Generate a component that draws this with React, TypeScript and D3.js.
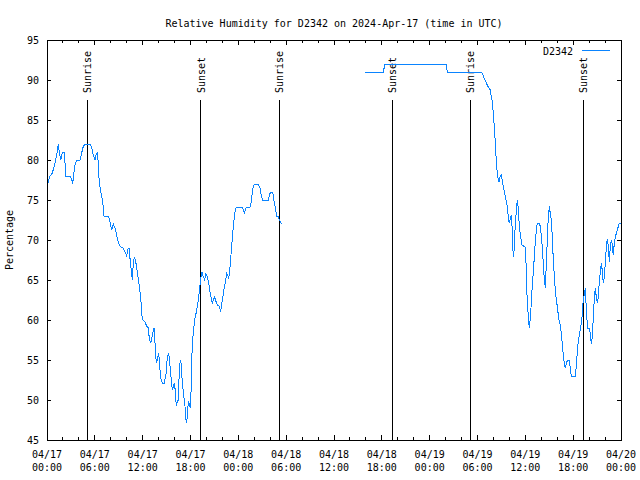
import React from 'react';
import * as d3 from 'd3';

// Relative humidity chart for station D2342, three days starting 2024-04-17 (UTC).

const TITLE = 'Relative Humidity for D2342 on 2024-Apr-17 (time in UTC)';
const SERIES_NAME = 'D2342';
const Y_LABEL = 'Percentage';

const startTime = '2024-04-17T00:00:00Z';
const endTime = '2024-04-20T00:00:00Z';
const yTicks = [45, 50, 55, 60, 65, 70, 75, 80, 85, 90, 95];

const sunEventNames = ['Sunrise', 'Sunset', 'Sunrise', 'Sunset', 'Sunrise', 'Sunset'];
const sunEventTimes = [
  '2024-04-17T05:04:00Z',
  '2024-04-17T19:17:00Z',
  '2024-04-18T05:07:00Z',
  '2024-04-18T19:19:00Z',
  '2024-04-19T05:04:00Z',
  '2024-04-19T19:16:00Z',
];

// first block of readings (hours since 04/17 00:00)
const seg1Hours = [
  0.16, 0.31, 0.59, 0.79, 1.0, 1.22, 1.42, 1.54, 1.72, 1.84, 1.97, 2.13, 2.26, 2.38, 2.89, 3.1,
  3.22, 3.3, 3.51, 3.73, 4.14, 4.35, 4.55, 4.77, 5.39, 5.61, 5.81, 6.02, 6.15, 6.31, 6.43, 6.56,
  6.77, 6.99, 7.15, 7.69, 7.9, 8.12, 8.32, 8.53, 8.74, 8.94, 9.16, 9.57, 9.78, 10.0, 10.12, 10.29,
  10.41, 10.54, 10.7, 10.83, 10.95, 11.13, 11.25, 11.45, 11.67, 11.79, 11.88, 12.0, 12.29, 12.51,
  12.71, 12.83, 13.01, 13.13, 13.26, 13.42, 13.55, 13.64, 13.76, 13.89, 14.01, 14.14, 14.26, 14.46,
  14.71, 14.93, 15.09, 15.27, 15.43, 15.55, 15.72, 15.84, 15.97, 16.09, 16.22, 16.34, 16.47, 16.6,
  16.72, 16.85, 16.97, 17.15, 17.31, 17.47, 17.6, 17.72, 17.85, 17.98, 18.06, 18.15, 18.28, 18.44,
  18.56, 18.69, 18.82, 18.98, 19.1, 19.19, 19.32, 19.44, 19.61, 19.78, 19.94, 20.11, 20.28, 20.45,
  20.61, 20.73, 20.86, 21.04, 21.2, 21.36, 21.61, 21.79, 21.91, 22.04, 22.2, 22.37, 22.54, 22.67,
  22.79, 22.92, 23.04, 23.17, 23.29, 23.42, 23.54, 23.67, 23.8, 24.46, 24.62, 24.75, 24.87, 25.05,
  25.46, 25.59, 25.71, 25.88, 26.0, 26.5, 26.72, 26.88, 27.06, 27.76, 27.89, 28.06, 28.26, 28.39,
  28.51, 28.69, 28.81, 29.01, 29.14, 29.31, 29.51,
];
const seg1Rh = [
  77.1, 77.9, 78.2, 78.8, 79.6, 80.6, 82.0, 81.0, 80.0, 80.6, 81.0, 81.0, 79.6, 78.0, 78.0, 77.5,
  77.0, 77.8, 79.4, 80.0, 80.0, 80.9, 81.7, 82.0, 82.0, 81.5, 80.6, 80.0, 80.6, 81.0, 79.6, 77.1,
  75.9, 74.8, 73.0, 73.0, 72.3, 71.2, 72.0, 71.5, 70.6, 69.8, 69.2, 69.0, 68.5, 68.0, 68.8, 69.0,
  67.7, 66.5, 65.0, 67.1, 67.9, 67.3, 66.5, 65.2, 63.5, 62.3, 60.8, 60.0, 59.8, 59.2,
  59.0, 57.7, 57.1, 57.7, 58.3, 59.0, 57.1, 55.4, 54.6, 55.4, 55.9, 54.2, 52.7, 52.1,
  52.1, 53.3, 55.4, 55.9, 54.2, 52.9, 51.2, 51.7, 52.1, 51.2, 49.2, 49.8, 50.0, 53.8,
  55.0, 54.4, 52.1, 50.6, 49.2, 47.1, 47.9, 49.8, 49.6, 49.0, 50.8, 55.0, 57.7, 59.2,
  60.2, 60.8, 61.5, 62.5, 63.5, 64.4, 65.4, 66.0, 65.4, 65.0, 65.8, 65.4, 64.6, 63.5,
  62.7, 62.1, 62.5, 62.9, 62.3, 61.9, 61.7, 61.0, 62.1, 62.7, 63.8, 64.8, 65.8, 65.6,
  65.2, 66.2, 67.7, 69.2, 70.8, 72.1, 73.3, 74.0, 74.1, 74.1, 73.8, 73.3, 73.8, 74.1,
  74.1, 74.6, 75.6, 76.7, 77.0, 77.0, 76.5, 75.6, 75.0, 75.0, 75.6, 76.0, 76.0, 75.6,
  74.6, 73.8, 73.0, 73.0, 72.5, 72.2, 72.0,
];

// second block of readings after the data gap
const seg2Hours = [
  39.89, 42.18, 42.4, 50.05, 50.21, 54.53, 54.73, 54.94, 55.16, 55.36, 55.57, 55.69, 55.86, 55.98,
  56.16, 56.28, 56.41, 56.53, 56.7, 56.82, 56.99, 57.11, 57.24, 57.41, 57.58, 57.74, 57.89, 57.99,
  58.14, 58.24, 58.33, 58.42, 58.49, 58.62, 58.74, 58.92, 58.99, 59.12, 59.24, 59.42, 59.55, 59.96,
  60.08, 60.17, 60.3, 60.42, 60.5, 60.62, 60.75, 60.87, 61.0, 61.13, 61.25, 61.38, 61.5, 61.75,
  61.88, 62.0, 62.13, 62.25, 62.34, 62.43, 62.51, 62.56, 62.68, 62.81, 62.93, 63.01, 63.13, 63.26,
  63.38, 63.51, 63.64, 63.76, 63.89, 64.01, 64.14, 64.26, 64.39, 64.51, 64.64, 64.76, 64.89, 65.01,
  65.14, 65.26, 65.51, 65.64, 65.76, 66.27, 66.39, 66.52, 66.64, 66.77, 66.89, 67.02, 67.11, 67.2,
  67.4, 67.52, 67.61, 67.7, 67.82, 68.02, 68.15, 68.27, 68.4, 68.52, 68.65, 68.77, 68.9, 69.03,
  69.15, 69.28, 69.4, 69.53, 69.65, 69.78, 69.91, 70.03, 70.16, 70.28, 70.41, 70.53, 70.66, 70.78,
  70.91, 71.03, 71.16, 71.29, 71.41, 71.54, 71.66, 71.79, 71.94,
];
const seg2Rh = [
  91.0, 91.0, 92.0, 92.0, 91.0, 91.0, 90.5, 90.0, 89.5, 89.1, 88.8, 88.1, 87.3, 85.8,
  83.5, 81.2, 79.2, 77.9, 77.3, 77.9, 78.1, 77.4, 76.7, 75.8, 75.0, 74.2, 72.6, 72.1,
  72.7, 73.1, 71.7, 69.4, 67.9, 69.0, 72.1, 74.2, 75.0, 74.0, 71.7, 70.4, 69.4, 69.1,
  67.3, 63.8, 61.5, 59.8, 59.0, 60.2, 62.1, 64.4, 66.0, 67.9, 69.8, 71.2, 72.1, 72.1,
  71.7, 70.6, 69.0, 67.1, 65.6, 64.6, 64.0, 65.4, 67.9, 71.7, 73.3, 74.2, 73.3, 72.5,
  70.4, 67.5, 65.4, 63.8, 62.5, 61.7, 60.6, 59.8, 59.4, 58.3, 56.9, 55.6, 54.6, 54.0,
  54.6, 54.9, 54.9, 54.0, 53.0, 53.0, 54.2, 56.0, 57.3, 58.1, 58.8, 59.6, 60.4, 61.9,
  63.3, 64.0, 62.1, 60.4, 59.0, 59.0, 58.3, 57.0, 57.9, 60.2, 62.7, 64.0, 62.9, 62.1,
  62.9, 64.8, 66.0, 67.1, 66.2, 64.6, 65.4, 67.1, 69.2, 70.1, 69.2, 67.3, 69.2, 70.0,
  69.4, 68.1, 69.6, 70.4, 70.8, 71.2, 71.7, 72.1, 72.1,
];

const WIDTH = 640;
const HEIGHT = 480;
const margin = {top: 40, right: 19, bottom: 40, left: 47};
const FONT = '"DejaVu Sans Mono", monospace';
const LINE_COLOR = '#0a84ff';

type Point = {t: Date; v: number};

const toPoints = (hours: number[], values: number[]): Point[] => {
  const t0 = new Date(startTime).getTime();
  return hours.map((h, i) => ({t: new Date(t0 + h * 3600 * 1000), v: values[i]}));
};

export default function App() {
  const x0 = margin.left;
  const x1 = WIDTH - margin.right;
  const y0 = margin.top;
  const y1 = HEIGHT - margin.bottom;

  const x = d3
    .scaleUtc()
    .domain([new Date(startTime), new Date(endTime)])
    .range([x0, x1]);
  const y = d3.scaleLinear().domain([45, 95]).range([y1, y0]);

  const line = d3
    .line<Point>()
    .x((d) => x(d.t))
    .y((d) => y(d.v));

  const segments = [toPoints(seg1Hours, seg1Rh), toPoints(seg2Hours, seg2Rh)];

  const majorTicks = x.ticks(d3.utcHour.every(6)!);
  const minorTicks = x.ticks(d3.utcHour.every(2)!).filter((d) => d.getUTCHours() % 6 !== 0);
  const fmtDay = d3.utcFormat('%m/%d');
  const fmtTime = d3.utcFormat('%H:%M');

  const textStyle = {fontFamily: FONT, fontSize: 10, fill: '#000'};

  return (
    <svg
      width={WIDTH}
      height={HEIGHT}
      style={{position: 'absolute', left: 0, top: 0, background: '#fff'}}
    >
      <rect width={WIDTH} height={HEIGHT} fill="#fff" />
      <text x={(x0 + x1) / 2} y={27} textAnchor="middle" style={textStyle}>
        {TITLE}
      </text>

      {/* y ticks, mirrored on the right */}
      <g shapeRendering="crispEdges" stroke="#000">
        {yTicks.map((t) => (
          <g key={t}>
            <line x1={x0} x2={x0 + 4} y1={y(t)} y2={y(t)} />
            <line x1={x1} x2={x1 - 4} y1={y(t)} y2={y(t)} />
          </g>
        ))}
        {majorTicks.map((t) => (
          <g key={+t}>
            <line x1={x(t)} x2={x(t)} y1={y1} y2={y1 - 5} />
            <line x1={x(t)} x2={x(t)} y1={y0} y2={y0 + 5} />
          </g>
        ))}
        {minorTicks.map((t) => (
          <g key={+t}>
            <line x1={x(t)} x2={x(t)} y1={y1} y2={y1 - 3} />
            <line x1={x(t)} x2={x(t)} y1={y0} y2={y0 + 3} />
          </g>
        ))}
      </g>

      {yTicks.map((t) => (
        <text key={t} x={x0 - 8} y={y(t) + 4} textAnchor="end" style={textStyle}>
          {t}
        </text>
      ))}
      {majorTicks.map((t) => (
        <text key={+t} textAnchor="middle" style={textStyle}>
          <tspan x={x(t)} y={458}>
            {fmtDay(t)}
          </tspan>
          <tspan x={x(t)} y={471}>
            {fmtTime(t)}
          </tspan>
        </text>
      ))}

      <text
        transform={`translate(13,${(y0 + y1) / 2}) rotate(-90)`}
        textAnchor="middle"
        style={textStyle}
      >
        {Y_LABEL}
      </text>

      {/* sunrise / sunset markers */}
      {sunEventTimes.map((s, i) => {
        const xs = x(new Date(s));
        return (
          <g key={s}>
            <line
              x1={xs}
              x2={xs}
              y1={100}
              y2={y1}
              stroke="#000"
              shapeRendering="crispEdges"
            />
            <text
              transform={`translate(${xs + 4},93) rotate(-90)`}
              textAnchor="start"
              style={textStyle}
            >
              {sunEventNames[i]}
            </text>
          </g>
        );
      })}

      {segments.map((seg, i) => (
        <path
          key={i}
          d={line(seg) || ''}
          fill="none"
          stroke={LINE_COLOR}
          strokeWidth={1}
          shapeRendering="crispEdges"
        />
      ))}

      {/* legend */}
      <text x={573} y={55} textAnchor="end" style={textStyle}>
        {SERIES_NAME}
      </text>
      <line x1={582} x2={610} y1={50} y2={50} stroke={LINE_COLOR} shapeRendering="crispEdges" />

      <rect
        x={x0}
        y={y0}
        width={x1 - x0}
        height={y1 - y0}
        fill="none"
        stroke="#000"
        shapeRendering="crispEdges"
      />
    </svg>
  );
}
